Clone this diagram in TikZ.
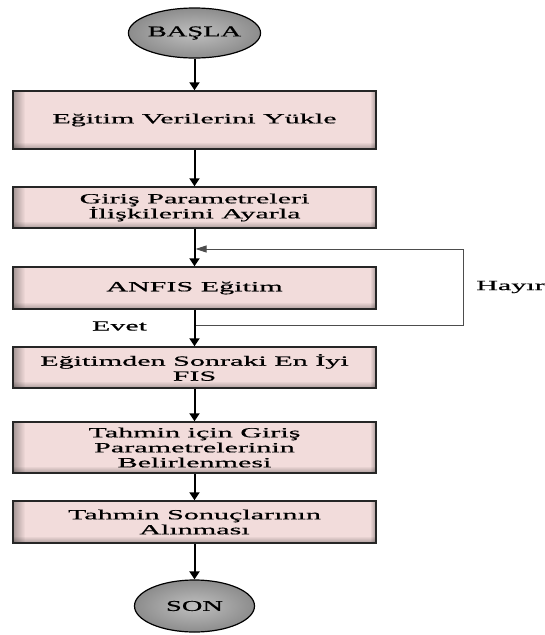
\documentclass[tikz,border=0pt]{standalone}
\usepackage{fontspec}
\setmainfont{Liberation Serif}[FakeStretch=2.15,FakeBold=0.6]
\newfontfamily\ellfont{Liberation Serif}[FakeStretch=1.9,FakeBold=0.6]
\usetikzlibrary{arrows.meta,shapes.geometric}
\definecolor{boxpink}{HTML}{F2DCDB}
\definecolor{loopgray}{HTML}{4D4D4D}
\tikzset{
  proc/.style={draw=black!85, line width=1.4pt, fill=boxpink, minimum width=363pt,
    inner sep=0pt, align=center, font=\fontsize{14}{15}\selectfont,
    path picture={
      \foreach \i [evaluate=\i as \op using {0.32*(1-\i/12)}] in {0,...,11}
        \fill[black, fill opacity=\op]
          ([xshift=\i pt]path picture bounding box.south west) rectangle
          ([xshift=\i pt+1pt]path picture bounding box.north west);
      \foreach \i [evaluate=\i as \op using {0.25*(1-\i/6)}] in {0,...,5}
        \fill[black, fill opacity=\op]
          ([yshift=\i pt]path picture bounding box.south west) rectangle
          ([yshift=\i pt+1pt]path picture bounding box.south east);
      \foreach \i [evaluate=\i as \op using {0.25*(1-\i/5)}] in {0,...,4}
        \fill[black, fill opacity=\op]
          ([xshift=-\i pt]path picture bounding box.south east) rectangle
          ([xshift=-\i pt-1pt]path picture bounding box.north east);
    }},
  term/.style={ellipse, draw=black, line width=1.2pt, inner color=black!25, outer color=black!45,
    minimum width=118pt, minimum height=50pt, inner sep=0pt,
    font=\ellfont\fontsize{15}{16}\selectfont},
  flow/.style={line width=2pt, -{Triangle[width=10pt,length=8pt]}},
  loopline/.style={draw=loopgray, line width=1pt},
  loophead/.style={-{Triangle[width=7pt,length=11pt]}},
  lbl/.style={font=\fontsize{14}{15}\selectfont, inner sep=0pt}
}
\begin{document}
\begin{tikzpicture}[x=1pt,y=-1pt]
\useasboundingbox (0,0) rectangle (544,635);
\node[term] (b0) at (194.5,33) {BAŞLA};
\node[proc, minimum height=58pt] (b1) at (194.5,120) {Eğitim Verilerini Yükle};
\node[proc, minimum height=41pt] (b2) at (194.5,207.5) {Giriş Parametreleri\\İlişkilerini Ayarla};
\node[proc, minimum height=42pt] (b3) at (194.5,288) {ANFIS Eğitim};
\node[proc, minimum height=41pt] (b4) at (194.5,367.5) {Eğitimden Sonraki En İyi\\FIS};
\node[proc, minimum height=51pt] (b5) at (194.5,447.5) {Tahmin için Giriş\\Parametrelerinin\\Belirlenmesi};
\node[proc, minimum height=42pt] (b6) at (194.5,522) {Tahmin Sonuçlarının\\Alınması};
\node[term, minimum width=120pt, minimum height=52pt] (b7) at (194.5,606) {SON};

\coordinate (j1) at (194.5,325);
\coordinate (c1) at (463,325);
\coordinate (c2) at (463,249);
\coordinate (j2) at (195.5,249);

\draw[loopline] (j1) -- (c1) -- (c2);
\draw[loopline, loophead] (c2) -- (j2);

\draw[flow] (b0) -- (b1);
\draw[flow] (b1) -- (b2);
\draw[flow] (b2) -- (b3);
\draw[flow] (b3) -- (b4);
\draw[flow] (b4) -- (b5);
\draw[flow] (b5) -- (b6);
\draw[flow] (b6) -- (b7);

\node[lbl] (evet) at (119.5,326) {Evet};
\node[lbl, anchor=west] (hayir) at (476,287) {Hayır};
\end{tikzpicture}
\end{document}
